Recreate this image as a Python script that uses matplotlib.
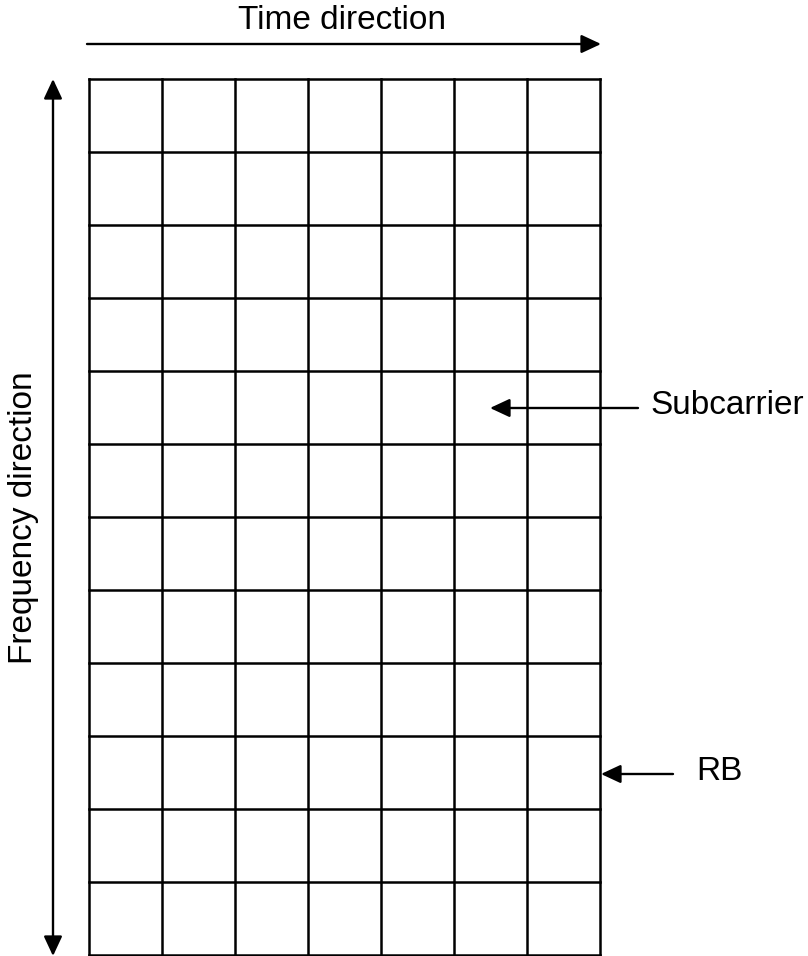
import matplotlib
matplotlib.use("Agg")
import matplotlib.pyplot as plt

# Resource grid content
n_cols = 7            # OFDM symbols (time direction)
n_rows = 12           # subcarriers (frequency direction)
time_label = "Time direction"
freq_label = "Frequency direction"
sub_label = "Subcarrier"
rb_label = "RB"

W, H = 808, 956
fig = plt.figure(figsize=(W / 100, H / 100), dpi=100)
ax = fig.add_axes([0, 0, 1, 1])
ax.set_xlim(0, W)
ax.set_ylim(H, 0)
ax.axis("off")

plt.rcParams['font.family'] = ['Liberation Sans', 'DejaVu Sans']
FS = 24

# grid layout (pixels)
x0, x1 = 89, 600
y0, y1 = 79, 955
cw = (x1 - x0) / n_cols
rh = (y1 - y0) / n_rows
lw = 1.8
for i in range(n_cols + 1):
    x = x0 + i * cw
    ax.plot([x, x], [y0, y1], color="black", lw=lw, solid_capstyle="projecting")
for j in range(n_rows + 1):
    y = y0 + j * rh
    ax.plot([x0, x1], [y, y], color="black", lw=lw, solid_capstyle="projecting")

ap = dict(arrowstyle="-|>,head_length=0.6,head_width=0.28", color="black",
          lw=1.7, shrinkA=0, shrinkB=0, mutation_scale=20)
ap2 = dict(ap)
ap2["arrowstyle"] = "<|-|>,head_length=0.6,head_width=0.28"

# time arrow
ax.annotate("", xy=(601, 44), xytext=(87, 44), arrowprops=ap)
ax.text(342, 20, time_label, fontsize=FS, ha="center", va="center")

# frequency arrow
ax.annotate("", xy=(53, 79), xytext=(53, 956), arrowprops=ap2)
ax.text(24, 518, freq_label, fontsize=FS, ha="center", va="center", rotation=90)

# subcarrier
ax.annotate("", xy=(490, 408), xytext=(638, 408), arrowprops=ap)
ax.text(650, 405, sub_label, fontsize=FS, ha="left", va="center")

# RB
ax.annotate("", xy=(601, 774), xytext=(673, 774), arrowprops=ap)
ax.text(696, 772, rb_label, fontsize=FS, ha="left", va="center")

fig.savefig("out.png", dpi=100, facecolor="white")
